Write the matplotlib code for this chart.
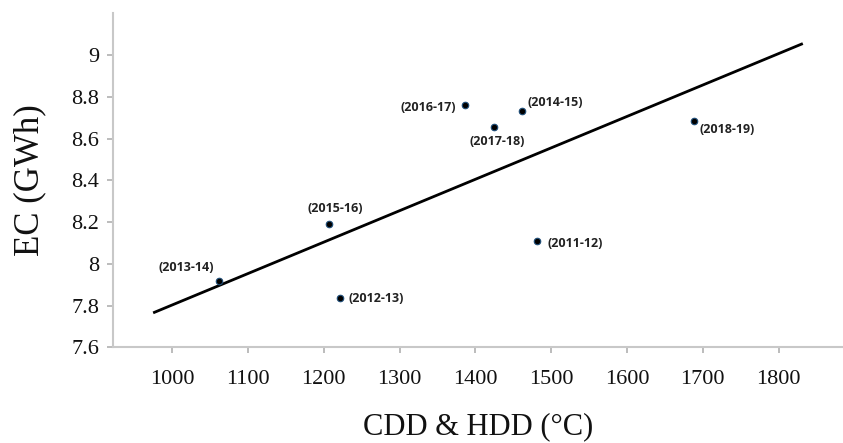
import matplotlib.pyplot as plt

# values
years = ['(2011-12)', '(2012-13)', '(2013-14)', '(2014-15)',
         '(2015-16)', '(2016-17)', '(2017-18)', '(2018-19)']
dd = [1482, 1222, 1062, 1462, 1207, 1387, 1425, 1688]
ec = [8.107, 7.837, 7.918, 8.731, 8.19, 8.763, 8.654, 8.685]

# trend line end points as drawn in the reference
trend_x = [975, 1832]
trend_y = [7.765, 9.055]

x_ticks = [1000, 1100, 1200, 1300, 1400, 1500, 1600, 1700, 1800]
y_ticks = [7.6, 7.8, 8.0, 8.2, 8.4, 8.6, 8.8, 9.0]
y_tick_labels = ['7.6', '7.8', '8', '8.2', '8.4', '8.6', '8.8', '9']

# label offsets in pixels (dx, dy, ha)
offsets = {
    '(2011-12)': (10, -2, 'left'),
    '(2012-13)': (8, -1, 'left'),
    '(2013-14)': (-5, 13, 'right'),
    '(2014-15)': (5, 9, 'left'),
    '(2015-16)': (6, 16, 'center'),
    '(2016-17)': (-9, -3, 'right'),
    '(2017-18)': (3, -14, 'center'),
    '(2018-19)': (6, -9, 'left'),
}


def main():
    fig = plt.figure(figsize=(8.43, 4.43), dpi=100)
    ax = fig.add_axes([0.134, 0.216, 0.866, 0.754])

    ax.plot(trend_x, trend_y, color='black', lw=2, solid_capstyle='butt')
    ax.scatter(dd, ec, s=22, color='black', edgecolors='#1f4e79',
               linewidths=0.8, zorder=3)

    for lab, x, y in zip(years, dd, ec):
        dx, dy, ha = offsets[lab]
        ax.annotate(lab, (x, y), xytext=(dx, dy), textcoords='offset pixels',
                    ha=ha, va='center', fontsize=9, fontweight='bold',
                    family='Open Sans', color='#222222')

    ax.set_xlim(922, 1885)
    ax.set_ylim(7.6, 9.2)
    ax.set_xticks(x_ticks)
    ax.set_xticklabels([str(t) for t in x_ticks])
    ax.set_yticks(y_ticks)
    ax.set_yticklabels(y_tick_labels)

    for s in ['top', 'right']:
        ax.spines[s].set_visible(False)
    for s in ['left', 'bottom']:
        ax.spines[s].set_color('#c8c8c8')
        ax.spines[s].set_linewidth(1.5)

    ax.tick_params(axis='both', colors='#b0b0b0', length=4, width=1.2,
                   labelcolor='#111111')
    ax.tick_params(axis='x', pad=12)
    ax.tick_params(axis='y', pad=6)
    for t in ax.get_xticklabels() + ax.get_yticklabels():
        t.set_family('Liberation Serif')
        t.set_fontsize(16)

    ax.set_xlabel('CDD & HDD (°C)', family='Liberation Serif', fontsize=22,
                  labelpad=17, color='#111111')
    ax.set_ylabel('EC (GWh)', family='Liberation Serif', fontsize=25,
                  labelpad=18, color='#111111')

    fig.savefig('out.png', dpi=100)
    plt.close()


if __name__ == "__main__":
    main()
